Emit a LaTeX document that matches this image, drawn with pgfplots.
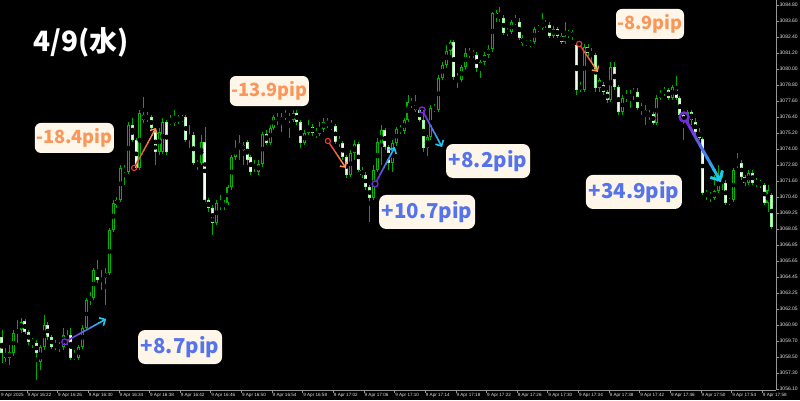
\documentclass[border=0pt]{standalone}
\usepackage{pgfplots}
\pgfplotsset{compat=1.18}
\usepackage{pgfplotstable}
\usepackage{fontspec}
\setmainfont{Liberation Sans}
\newfontfamily\cjk{Noto Sans CJK JP}
\usetikzlibrary{calc,arrows.meta}
\definecolor{wick}{RGB}{0,170,0}
\definecolor{bullout}{RGB}{0,180,0}
\definecolor{bearout}{RGB}{150,245,150}
\definecolor{bearfill}{RGB}{240,255,240}
\definecolor{axisgray}{RGB}{150,150,150}
\definecolor{labelgray}{RGB}{225,225,225}
\definecolor{cream}{RGB}{254,246,232}
\definecolor{otext}{RGB}{250,150,90}
\definecolor{btext}{RGB}{85,115,235}
\definecolor{apurple}{RGB}{120,40,220}
\definecolor{acyan}{RGB}{30,200,240}
\definecolor{ared}{RGB}{235,60,50}
\definecolor{aorange}{RGB}{255,150,90}

\pgfplotstableread{
i o h l c
0 3059.90 3060.43 3057.95 3058.70
1 3058.70 3059.08 3058.03 3058.33
2 3058.33 3059.30 3057.80 3058.78
3 3058.70 3060.43 3058.48 3060.20
4 3060.20 3061.18 3059.45 3060.43
5 3060.43 3061.33 3060.20 3061.03
6 3061.10 3061.25 3060.13 3060.28
7 3060.28 3060.43 3059.30 3059.53
8 3059.68 3059.83 3059.08 3059.45
9 3059.45 3059.68 3056.68 3058.70
10 3058.03 3059.30 3057.43 3059.15
11 3059.15 3061.55 3058.93 3060.80
12 3060.80 3061.03 3059.68 3059.90
13 3059.90 3060.05 3059.00 3059.15
14 3059.30 3059.68 3058.93 3059.15
15 3059.30 3059.53 3058.78 3059.08
16 3059.15 3060.58 3058.93 3060.05
17 3059.53 3060.43 3059.30 3059.90
18 3060.05 3060.58 3058.18 3058.33
19 3058.48 3058.93 3058.18 3058.33
20 3058.33 3059.30 3058.18 3059.15
21 3059.15 3060.80 3059.00 3060.58
22 3060.58 3062.83 3060.43 3062.68
23 3062.83 3063.28 3062.30 3062.68
24 3062.83 3065.08 3062.68 3064.93
25 3064.93 3065.68 3063.95 3064.18
26 3064.33 3064.93 3063.43 3064.03
27 3064.33 3065.08 3062.30 3064.70
28 3064.70 3068.08 3064.55 3067.93
29 3067.93 3070.18 3067.78 3069.95
30 3070.18 3070.40 3069.58 3069.80
31 3070.18 3072.80 3070.03 3072.58
32 3072.58 3072.80 3071.30 3072.28
33 3072.28 3076.03 3072.13 3075.80
34 3075.80 3076.33 3074.53 3074.68
35 3074.68 3074.83 3072.43 3072.58
36 3072.58 3076.93 3072.43 3076.70
37 3076.55 3077.90 3075.95 3076.18
38 3076.40 3076.78 3076.03 3076.33
39 3076.40 3076.55 3075.43 3075.58
40 3075.28 3075.43 3072.80 3073.78
41 3073.78 3075.58 3073.55 3075.28
42 3073.78 3076.33 3073.63 3076.03
43 3076.03 3076.18 3073.55 3073.78
44 3076.10 3076.55 3075.80 3075.95
45 3075.95 3076.93 3075.73 3076.33
46 3076.33 3076.55 3075.88 3076.18
47 3076.33 3076.55 3076.03 3076.18
48 3076.40 3076.55 3074.53 3074.68
49 3074.98 3075.80 3074.08 3074.68
50 3075.05 3075.28 3072.80 3072.95
51 3072.95 3073.18 3072.43 3072.80
52 3072.95 3075.05 3072.80 3074.53
53 3074.53 3075.65 3070.03 3070.18
54 3070.18 3070.33 3069.28 3069.58
55 3069.58 3069.80 3067.55 3068.45
56 3068.45 3070.18 3068.30 3069.95
57 3069.95 3070.55 3069.43 3069.65
58 3069.95 3070.18 3069.43 3069.65
59 3069.95 3071.30 3069.80 3071.15
60 3071.15 3073.55 3070.93 3073.40
61 3073.40 3074.68 3073.18 3074.08
62 3074.08 3075.05 3073.18 3074.45
63 3074.30 3074.53 3072.80 3073.93
64 3074.53 3074.68 3072.80 3073.18
65 3073.40 3073.55 3072.05 3072.28
66 3072.80 3073.18 3072.28 3072.58
67 3072.28 3073.18 3072.05 3072.88
68 3072.88 3075.28 3072.65 3075.13
69 3075.13 3075.43 3074.30 3074.45
70 3074.45 3075.80 3074.30 3075.58
71 3075.58 3076.55 3075.43 3076.40
72 3076.40 3076.70 3075.80 3076.10
73 3076.03 3076.70 3075.28 3076.40
74 3076.63 3076.93 3076.18 3076.40
75 3076.40 3076.70 3074.83 3076.18
76 3076.18 3076.93 3076.03 3076.70
77 3076.70 3076.93 3075.80 3076.03
78 3076.03 3076.18 3074.08 3074.45
79 3074.45 3075.43 3074.30 3075.20
80 3075.20 3076.18 3075.05 3075.65
81 3075.65 3075.88 3074.98 3075.20
82 3075.20 3075.58 3074.83 3075.05
83 3075.13 3076.03 3074.98 3075.58
84 3075.50 3076.33 3075.28 3076.03
85 3076.03 3076.33 3075.58 3075.73
86 3075.73 3076.18 3075.43 3075.65
87 3075.73 3075.88 3074.38 3074.53
88 3074.68 3074.98 3074.15 3074.45
89 3074.45 3074.60 3073.18 3073.40
90 3073.40 3073.55 3071.83 3072.05
91 3072.05 3073.93 3071.90 3073.70
92 3073.70 3074.68 3073.18 3074.38
93 3074.38 3074.53 3072.28 3072.43
94 3072.43 3072.65 3071.83 3072.05
95 3072.05 3072.28 3070.93 3071.15
96 3071.15 3071.30 3068.53 3070.33
97 3070.33 3072.80 3070.18 3072.43
98 3072.43 3074.83 3072.28 3074.53
99 3074.30 3075.80 3072.80 3075.43
100 3075.43 3075.58 3073.93 3074.15
101 3074.15 3074.30 3072.43 3072.95
102 3072.95 3074.68 3072.28 3074.45
103 3074.45 3075.65 3074.23 3075.50
104 3075.50 3075.80 3075.13 3075.35
105 3075.35 3076.33 3075.13 3076.18
106 3076.18 3078.05 3076.03 3077.53
107 3077.53 3077.83 3077.08 3077.30
108 3077.30 3078.05 3076.78 3076.93
109 3076.93 3077.08 3076.03 3076.18
110 3076.18 3076.93 3073.78 3074.08
111 3074.08 3075.05 3073.48 3074.90
112 3074.90 3077.30 3074.68 3077.08
113 3077.08 3077.38 3076.78 3076.93
114 3076.93 3079.55 3076.78 3079.33
115 3079.33 3080.53 3079.18 3080.30
116 3080.30 3081.80 3080.08 3081.35
117 3081.35 3082.18 3081.05 3082.03
118 3082.03 3082.18 3079.18 3079.40
119 3079.48 3079.70 3078.58 3079.18
120 3079.18 3080.30 3079.03 3080.15
121 3080.15 3081.58 3079.93 3081.20
122 3081.28 3081.58 3080.83 3081.05
123 3081.20 3081.43 3080.83 3081.05
124 3081.05 3081.28 3079.78 3080.08
125 3080.08 3080.68 3079.33 3080.53
126 3080.53 3081.28 3080.30 3081.05
127 3081.05 3081.80 3080.83 3081.50
128 3081.50 3084.28 3081.28 3084.20
129 3084.20 3084.43 3083.53 3083.83
130 3083.98 3084.65 3083.53 3083.83
131 3083.83 3084.05 3082.55 3082.70
132 3082.85 3083.08 3082.48 3082.70
133 3082.78 3083.68 3082.63 3083.53
134 3083.60 3084.05 3083.30 3083.45
135 3083.53 3083.83 3082.18 3082.33
136 3082.33 3082.55 3081.73 3081.95
137 3082.03 3082.18 3081.73 3081.88
138 3082.03 3082.18 3081.65 3081.80
139 3082.03 3083.15 3081.88 3083.00
140 3083.08 3083.30 3082.78 3082.93
141 3083.08 3084.20 3082.93 3083.45
142 3083.45 3083.68 3083.08 3083.30
143 3083.30 3083.53 3082.33 3082.48
144 3082.48 3083.23 3082.33 3083.00
145 3083.00 3083.15 3082.33 3082.48
146 3082.48 3082.70 3081.88 3082.03
147 3082.03 3083.53 3081.88 3082.48
148 3082.78 3082.93 3082.33 3082.55
149 3082.78 3082.93 3082.18 3082.40
150 3081.80 3081.95 3078.05 3078.43
151 3078.43 3079.03 3078.28 3078.80
152 3078.43 3081.88 3078.28 3081.65
153 3081.65 3081.88 3080.98 3081.20
154 3081.28 3081.58 3080.53 3081.05
155 3081.05 3081.20 3078.28 3078.58
156 3078.58 3079.33 3078.28 3079.18
157 3078.80 3079.03 3078.05 3078.28
158 3078.28 3078.43 3077.45 3077.68
159 3077.68 3080.53 3077.53 3080.15
160 3080.15 3080.53 3078.43 3078.65
161 3078.65 3078.80 3076.55 3076.78
162 3076.78 3078.05 3076.55 3077.83
163 3078.05 3078.43 3077.53 3077.83
164 3078.13 3078.43 3077.08 3077.83
165 3078.13 3078.58 3077.68 3078.43
166 3078.28 3078.58 3076.93 3077.08
167 3077.15 3077.45 3076.55 3076.93
168 3076.93 3077.30 3075.80 3076.55
169 3076.63 3076.93 3076.18 3076.48
170 3076.63 3076.78 3075.80 3075.95
171 3075.95 3078.05 3075.80 3077.83
172 3077.83 3078.43 3077.68 3078.20
173 3078.20 3078.65 3077.98 3078.43
174 3078.43 3078.58 3077.68 3077.83
175 3077.83 3078.80 3077.68 3078.65
176 3078.65 3079.48 3077.68 3077.83
177 3077.83 3077.98 3076.33 3076.55
178 3076.55 3076.78 3074.68 3076.03
179 3076.03 3076.93 3075.80 3076.78
180 3076.78 3076.93 3075.80 3076.18
181 3076.03 3076.33 3075.05 3075.28
182 3075.28 3075.58 3074.68 3074.83
183 3074.75 3074.90 3070.55 3070.70
184 3070.70 3070.93 3070.18 3070.55
185 3070.55 3070.78 3070.03 3070.40
186 3070.33 3072.05 3070.18 3070.85
187 3070.85 3072.80 3070.70 3071.90
188 3071.68 3072.43 3070.93 3071.45
189 3071.45 3071.68 3069.80 3069.95
190 3070.18 3070.33 3069.80 3069.95
191 3070.18 3072.58 3070.03 3072.43
192 3072.95 3073.70 3072.58 3072.80
193 3072.95 3073.18 3071.68 3071.90
194 3071.90 3072.05 3071.23 3071.45
195 3071.45 3072.43 3071.30 3072.20
196 3072.20 3072.43 3071.30 3071.45
197 3071.53 3071.83 3071.15 3071.38
198 3071.53 3071.68 3071.08 3071.30
199 3071.30 3071.45 3069.80 3069.95
200 3069.95 3071.30 3069.28 3070.93
201 3070.55 3070.70 3068.00 3068.15
}\candles

% gradient arrow: #1 start, #2 end, #3 colour1, #4 colour2, #5 line width, #6 circle radius, #7 head length
\newcommand{\gradarrow}[7]{%
  \draw[#3, line width=0.8*#5] (#1) circle (#6);
  \coordinate (gaS) at ($(#1)!#6!(#2)$);
  \foreach \k in {0,...,8}{%
    \pgfmathsetmacro{\ta}{\k/10}%
    \pgfmathsetmacro{\tb}{(\k+1)/10+0.01}%
    \pgfmathsetmacro{\pc}{100-\k*11}%
    \draw[color=#3!\pc!#4, line width=#5, line cap=round] ($(gaS)!\ta!(#2)$) -- ($(gaS)!\tb!(#2)$);
  }
  \draw[color=#4, line width=#5, -{Straight Barb[length=#7, width=2*#7]}] ($(gaS)!0.9!(#2)$) -- (#2);
}

\begin{document}
\begin{tikzpicture}
\path[use as bounding box] (0,0) rectangle (800pt,400pt);
\fill[black] (0,0) rectangle (800pt,400pt);
\begin{axis}[
  at={(0pt,10pt)}, anchor=south west,
  scale only axis, width=776pt, height=390pt,
  xmin=-0.52, xmax=202.1, ymin=3055.925, ymax=3085.175,
  axis x line*=bottom, axis y line*=right,
  axis line style={-, draw=axisgray, line width=0.8pt},
  tick align=outside, major tick length=2.5pt,
  tick style={draw=axisgray, line width=0.5pt},
  xtick={6.5,14.5,...,198.5},
  xticklabels={9 Apr 16:22,9 Apr 16:26,9 Apr 16:30,9 Apr 16:34,9 Apr 16:38,9 Apr 16:42,9 Apr 16:46,9 Apr 16:50,9 Apr 16:54,9 Apr 16:58,9 Apr 17:02,9 Apr 17:06,9 Apr 17:10,9 Apr 17:14,9 Apr 17:18,9 Apr 17:22,9 Apr 17:26,9 Apr 17:30,9 Apr 17:34,9 Apr 17:38,9 Apr 17:42,9 Apr 17:46,9 Apr 17:50,9 Apr 17:54,9 Apr 17:58},
  xticklabel style={font=\fontsize{4.6}{5}\selectfont, text=labelgray, anchor=north west, inner sep=0.5pt},
  ytick={3056.0,3057.2,3058.4,3059.6,3060.8,3062.0,3063.2,3064.4,3065.6,3066.8,3068.0,3069.2,3070.4,3071.6,3072.8,3074.0,3075.2,3076.4,3077.6,3078.8,3080.0,3081.2,3082.4,3083.6,3084.8},
  yticklabels={3056.10,3057.30,3058.50,3059.70,3060.90,3062.05,3063.25,3064.45,3065.65,3066.85,3068.05,3069.25,3070.40,3071.60,3072.80,3074.00,3075.20,3076.40,3077.60,3078.80,3080.00,3081.20,3082.40,3083.60,3084.80},
  yticklabel style={font=\fontsize{5}{6}\selectfont, text=labelgray, anchor=west, inner sep=1pt},
]
% wicks
\addplot[forget plot, only marks, mark=none,
  error bars/.cd, y dir=both, y explicit, error mark=none,
  error bar style={line width=0.9pt, color=wick}]
  table[x=i, y expr={0.5*(\thisrow{h}+\thisrow{l})}, y error expr={0.5*(\thisrow{h}-\thisrow{l})}] {\candles};
% bull bodies (outline)
\addplot[forget plot, only marks, mark=none,
  error bars/.cd, y dir=both, y explicit, error mark=none,
  error bar style={line width=3pt, color=bullout}]
  table[x=i, y expr={\thisrow{c}>=\thisrow{o} ? 0.5*(\thisrow{o}+\thisrow{c}) : nan}, y error expr={0.5*abs(\thisrow{c}-\thisrow{o})}] {\candles};
\addplot[forget plot, only marks, mark=none,
  error bars/.cd, y dir=both, y explicit, error mark=none,
  error bar style={line width=0.9pt, color=black}]
  table[x=i, y expr={\thisrow{c}>=\thisrow{o} ? 0.5*(\thisrow{o}+\thisrow{c}) : nan}, y error expr={max(0.5*abs(\thisrow{c}-\thisrow{o})-0.075,0)}] {\candles};
% bear bodies (filled)
\addplot[forget plot, only marks, mark=none,
  error bars/.cd, y dir=both, y explicit, error mark=none,
  error bar style={line width=3pt, color=bearout}]
  table[x=i, y expr={\thisrow{c}<\thisrow{o} ? 0.5*(\thisrow{o}+\thisrow{c}) : nan}, y error expr={0.5*abs(\thisrow{c}-\thisrow{o})}] {\candles};
\addplot[forget plot, only marks, mark=none,
  error bars/.cd, y dir=both, y explicit, error mark=none,
  error bar style={line width=1.4pt, color=bearfill}]
  table[x=i, y expr={\thisrow{c}<\thisrow{o} ? 0.5*(\thisrow{o}+\thisrow{c}) : nan}, y error expr={max(0.5*abs(\thisrow{c}-\thisrow{o})-0.06,0)}] {\candles};
% annotation anchors
\coordinate (a1s) at (axis cs:34.5,3072.58);
\coordinate (a1e) at (axis cs:40.2,3075.58);
\coordinate (a2s) at (axis cs:85.1,3074.60);
\coordinate (a2e) at (axis cs:89.8,3072.58);
\coordinate (a3s) at (axis cs:97.4,3071.38);
\coordinate (a3e) at (axis cs:102.6,3074.15);
\coordinate (a4s) at (axis cs:109.7,3076.93);
\coordinate (a4e) at (axis cs:114.9,3074.15);
\coordinate (a5s) at (axis cs:150.7,3081.88);
\coordinate (a5e) at (axis cs:155.6,3079.78);
\coordinate (a6s) at (axis cs:178.1,3076.40);
\coordinate (a6e) at (axis cs:187.7,3071.53);
\coordinate (a7s) at (axis cs:16.4,3059.53);
\coordinate (a7e) at (axis cs:27.2,3061.25);
\coordinate (L1) at (axis cs:18.9,3074.83);
\coordinate (L2) at (axis cs:69.8,3078.35);
\coordinate (L3) at (axis cs:111.0,3069.28);
\coordinate (L4) at (axis cs:126.9,3073.10);
\coordinate (L5) at (axis cs:169.2,3083.38);
\coordinate (L6) at (axis cs:165.0,3070.78);
\coordinate (L7) at (axis cs:46.5,3059.15);
\end{axis}
% first date label
\node[anchor=north west, text=labelgray, font=\fontsize{4.6}{5}\selectfont, inner sep=0.5pt] at (0.5pt,7.5pt) {9 Apr 2025};
% arrows
\gradarrow{a1s}{a1e}{ared}{aorange}{1.4pt}{2.6pt}{4pt}
\gradarrow{a2s}{a2e}{ared}{aorange}{1.4pt}{2.6pt}{4pt}
\gradarrow{a5s}{a5e}{ared}{aorange}{1.4pt}{2.6pt}{4pt}
\gradarrow{a3s}{a3e}{apurple}{acyan}{1.6pt}{3pt}{4.5pt}
\gradarrow{a4s}{a4e}{apurple}{acyan}{1.6pt}{3pt}{4.5pt}
\gradarrow{a7s}{a7e}{apurple}{acyan}{1.6pt}{3pt}{4.5pt}
\gradarrow{a6s}{a6e}{apurple}{acyan}{3pt}{4.5pt}{7pt}
% labels
\tikzset{olab/.style={fill=cream, rounded corners=6pt, minimum height=30pt, inner sep=0pt, text=otext, font=\cjk\bfseries\fontsize{18.2}{20}\selectfont},
         blab/.style={fill=cream, rounded corners=7pt, minimum height=34pt, inner sep=0pt, text=btext, font=\cjk\bfseries\fontsize{20.5}{22}\selectfont}}
\node[olab, minimum width=79pt] at (L1) {-18.4pip};
\node[olab, minimum width=79pt] at (L2) {-13.9pip};
\node[olab, minimum width=68pt] at (L5) {-8.9pip};
\node[blab, minimum width=96pt] at (L3) {+10.7pip};
\node[blab, minimum width=84pt] at (L4) {+8.2pip};
\node[blab, minimum width=96pt] at (L6) {+34.9pip};
\node[blab, minimum width=84pt] at (L7) {+8.7pip};
% title
\node[text=white, font=\cjk\bfseries\fontsize{28}{30}\selectfont] at (81pt,358pt) {4/9(水)};
\end{tikzpicture}
\end{document}
